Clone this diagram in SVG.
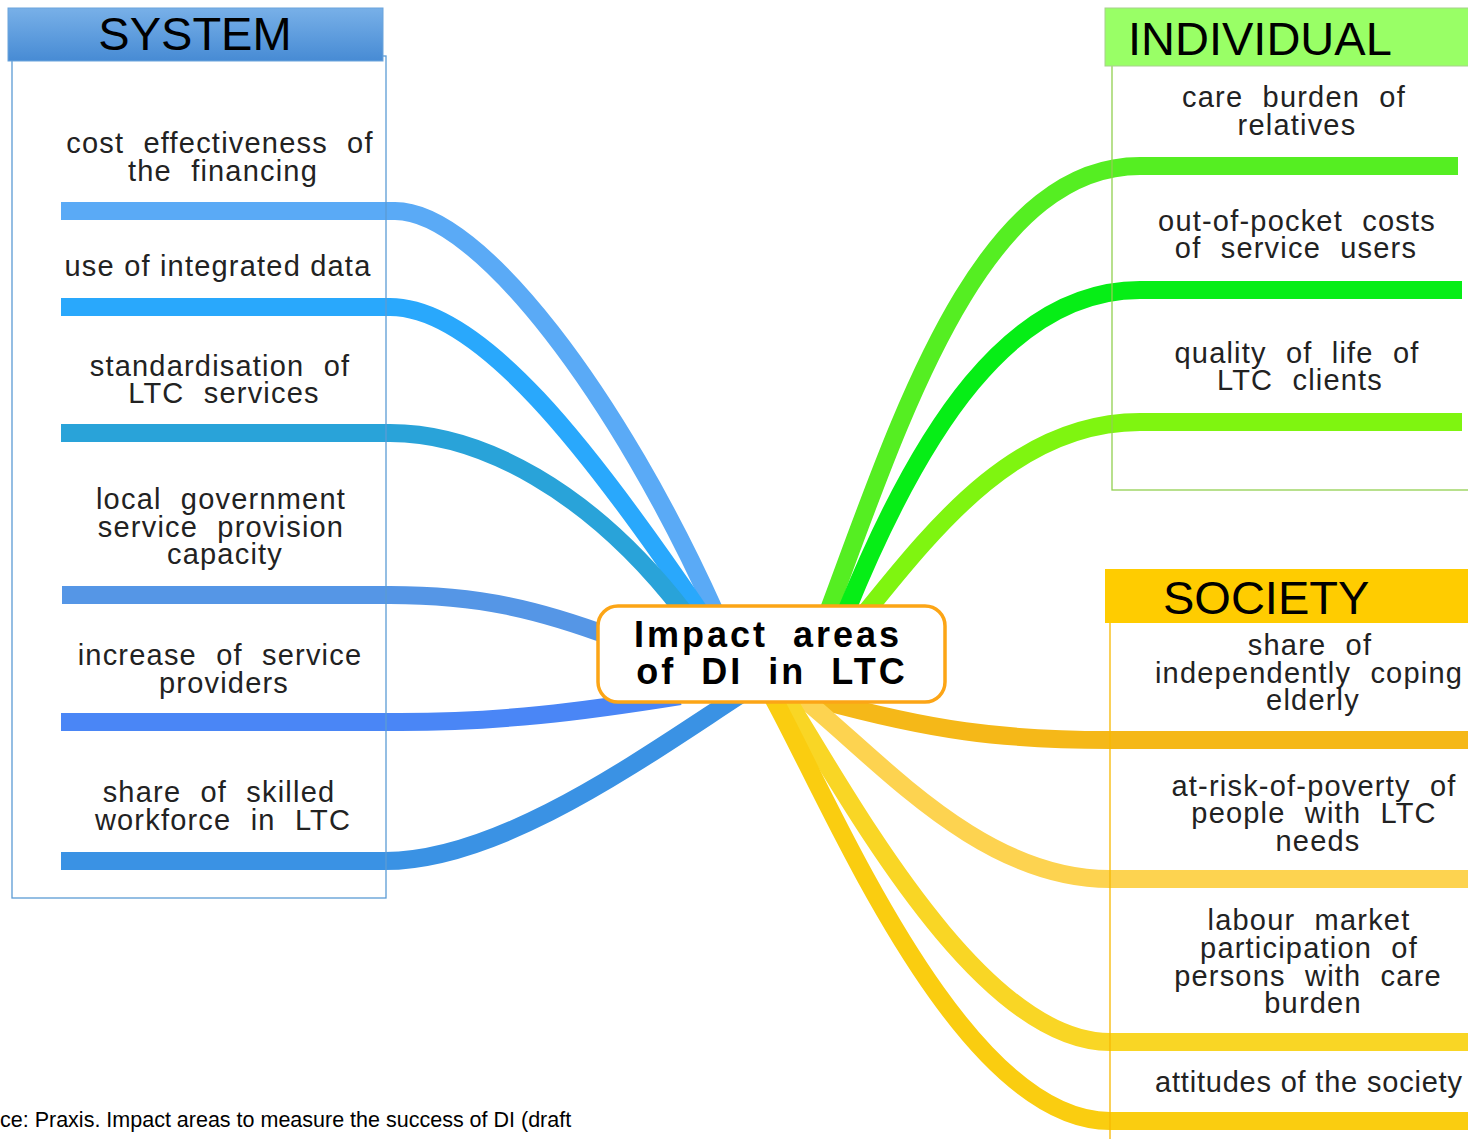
<svg xmlns="http://www.w3.org/2000/svg" width="1468" height="1139" viewBox="0 0 1468 1139">
<defs>
<linearGradient id="sysGrad" x1="0" y1="0" x2="0" y2="1">
<stop offset="0" stop-color="#78b0e8"/>
<stop offset="1" stop-color="#478bd4"/>
</linearGradient>
<style>
.br{fill:none;stroke-width:18;stroke-linecap:butt}
.lbl{font-family:"Liberation Sans",Arial,sans-serif;font-size:29px;fill:#222;letter-spacing:1.2px;word-spacing:10px;text-anchor:middle}
.plain{word-spacing:0}
.start{text-anchor:start;letter-spacing:0.8px}
.hdr{font-family:"Liberation Sans",Arial,sans-serif;font-size:47px;fill:#000}
.ctr{font-family:"Liberation Sans",Arial,sans-serif;font-size:36px;font-weight:bold;fill:#000;letter-spacing:3px;word-spacing:12px;text-anchor:middle}
.cap{font-family:"Liberation Sans",Arial,sans-serif;font-size:21.5px;fill:#000}
</style>
</defs>
<rect width="1468" height="1139" fill="#fff"/>

<g id="connectors">
<path class="br" stroke="#5aaaf6" d="M61,211 H395 C480,211 620,400 715,612"/>
<path class="br" stroke="#29a8fc" d="M61,307 H390 C480,307 590,450 700,612"/>
<path class="br" stroke="#29a3d9" d="M61,433 H390 C480,433 590,490 684,612"/>
<path class="br" stroke="#5596e6" d="M62,595 H390 C480,595 540,610 615,638"/>
<path class="br" stroke="#4a86f6" d="M61,722 H400 C500,722 580,712 680,696"/>
<path class="br" stroke="#3a92e4" d="M61,861 H385 C500,861 640,760 740,695"/>
<path class="br" stroke="#55ee22" d="M828,612 C900,420 980,166 1140,166 H1458"/>
<path class="br" stroke="#06ee16" d="M846,612 C920,430 1010,290 1140,290 H1462"/>
<path class="br" stroke="#7ff510" d="M866,612 C940,520 1020,422 1140,422 H1462"/>
<path class="br" stroke="#f5b818" d="M820,700 C930,730 1000,740 1110,740 H1468"/>
<path class="br" stroke="#fdd350" d="M800,696 C880,760 980,879 1110,879 H1468"/>
<path class="br" stroke="#f9d625" d="M785,696 C850,800 980,1042 1110,1042 H1468"/>
<path class="br" stroke="#facd10" d="M772,696 C830,800 960,1121 1110,1121 H1468"/>
</g>

<g id="system">
<rect x="12" y="56" width="374" height="842" fill="none" stroke="#5b9bd5" stroke-width="1.3"/>
<rect x="8" y="8" width="375" height="53" fill="url(#sysGrad)" stroke="#6aa4dc" stroke-width="1"/>
<text class="hdr" x="195" y="50" text-anchor="middle">SYSTEM</text>
</g>

<g id="individual">
<rect x="1112" y="60" width="400" height="430" fill="none" stroke="#92d050" stroke-width="1.3"/>
<rect x="1105" y="8" width="400" height="58" fill="#99ff66" stroke="#a8d08d" stroke-width="1"/>
<text class="hdr" x="1128" y="55">INDIVIDUAL</text>
</g>

<g id="society">
<rect x="1110" y="620" width="400" height="600" fill="none" stroke="#f8b800" stroke-width="1.3"/>
<rect x="1105" y="569" width="400" height="54" fill="#ffcc00"/>
<text class="hdr" x="1163" y="614">SOCIETY</text>
</g>

<g id="n-cost"><text class="lbl"><tspan x="220" y="153">cost effectiveness of</tspan><tspan x="223" y="181">the financing</tspan></text></g>
<g id="n-data"><text class="lbl plain" x="218" y="276">use of integrated data</text></g>
<g id="n-std"><text class="lbl"><tspan x="220" y="376">standardisation of</tspan><tspan x="224" y="403">LTC services</tspan></text></g>
<g id="n-local"><text class="lbl"><tspan x="221" y="509">local government</tspan><tspan x="221" y="537">service provision</tspan><tspan x="225" y="564">capacity</tspan></text></g>
<g id="n-incr"><text class="lbl"><tspan x="220" y="665">increase of service</tspan><tspan x="224" y="693">providers</tspan></text></g>
<g id="n-skill"><text class="lbl"><tspan x="219" y="802">share of skilled</tspan><tspan x="223" y="830">workforce in LTC</tspan></text></g>

<g id="n-care"><text class="lbl"><tspan x="1294" y="107">care burden of</tspan><tspan x="1297" y="135">relatives</tspan></text></g>
<g id="n-oop"><text class="lbl"><tspan x="1297" y="231">out-of-pocket costs</tspan><tspan x="1296" y="258">of service users</tspan></text></g>
<g id="n-qol"><text class="lbl"><tspan x="1297" y="363">quality of life of</tspan><tspan x="1300" y="390">LTC clients</tspan></text></g>

<g id="n-indep"><text class="lbl"><tspan x="1310" y="655">share of</tspan><tspan x="1309" y="683">independently coping</tspan><tspan x="1313" y="710">elderly</tspan></text></g>
<g id="n-pov"><text class="lbl"><tspan x="1314" y="796">at-risk-of-poverty of</tspan><tspan x="1314" y="823">people with LTC</tspan><tspan x="1318" y="851">needs</tspan></text></g>
<g id="n-labour"><text class="lbl"><tspan x="1309" y="930">labour market</tspan><tspan x="1309" y="958">participation of</tspan><tspan x="1308" y="986">persons with care</tspan><tspan x="1313" y="1013">burden</tspan></text></g>
<g id="n-att"><text class="lbl plain start" x="1155" y="1092">attitudes of the society</text></g>

<g id="center">
<rect x="598" y="606" width="347" height="96" rx="20" ry="20" fill="#fff" stroke="#fca516" stroke-width="3.5"/>
<text class="ctr"><tspan x="768" y="647">Impact areas</tspan><tspan x="772" y="684">of DI in LTC</tspan></text>
</g>

<text class="cap" x="0" y="1127">ce: Praxis. Impact areas to measure the success of DI (draft</text>
</svg>
